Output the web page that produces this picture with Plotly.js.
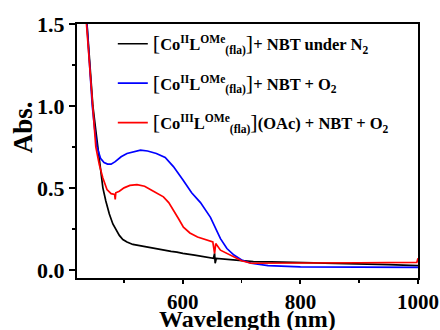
<!DOCTYPE html>
<html>
<head>
<meta charset="utf-8">
<script src="https://cdn.plot.ly/plotly-3.0.1.min.js"></script>
<style>html,body{margin:0;padding:0;background:#fff;}#chart{width:440px;height:330px;}</style>
</head>
<body>
<div id="chart"></div>
<script>
// Wavelength (nm) and absorbance for each spectrum
const blackWl  = [436, 441, 447, 452, 456, 460, 464, 469, 475, 481, 486, 488, 492, 498, 505, 515, 530, 550, 570, 580, 590, 600, 620, 640, 652, 654, 655, 657, 665, 680, 700, 720, 750, 800, 850, 900, 950, 1000];
const blackAbs = [1.55, 1.30, 1.00, 0.85, 0.74, 0.62, 0.50, 0.42, 0.34, 0.28, 0.25, 0.235, 0.21, 0.185, 0.17, 0.155, 0.145, 0.13, 0.12, 0.112, 0.108, 0.10, 0.09, 0.08, 0.07, 0.10, 0.04, 0.07, 0.068, 0.06, 0.055, 0.05, 0.048, 0.045, 0.042, 0.038, 0.032, 0.025];

const blueWl  = [435, 440, 446, 450, 454, 460, 466, 472, 478, 485, 495, 505, 515, 528, 540, 555, 570, 584, 600, 615, 630, 647, 664, 675, 687, 700, 716, 745, 800, 900, 1000];
const blueAbs = [1.60, 1.32, 1.00, 0.86, 0.75, 0.68, 0.655, 0.645, 0.645, 0.66, 0.69, 0.71, 0.72, 0.73, 0.725, 0.71, 0.685, 0.63, 0.55, 0.47, 0.41, 0.32, 0.19, 0.13, 0.09, 0.06, 0.04, 0.025, 0.018, 0.016, 0.015];

const redWl  = [434, 440, 447, 452, 458, 464, 471, 478, 484, 485, 486, 492, 500, 510, 522, 535, 550, 567, 576, 584, 593, 601, 612, 625, 640, 651, 654, 656, 664, 675, 687, 700, 716, 750, 800, 900, 998, 1000];
const redAbs = [1.60, 1.30, 1.00, 0.75, 0.64, 0.56, 0.49, 0.465, 0.46, 0.43, 0.47, 0.48, 0.50, 0.515, 0.52, 0.51, 0.48, 0.445, 0.41, 0.365, 0.31, 0.26, 0.225, 0.20, 0.18, 0.17, 0.10, 0.16, 0.12, 0.10, 0.075, 0.055, 0.04, 0.04, 0.043, 0.043, 0.045, 0.07];

const seriesNames = [
  '<span style="font-weight:normal;font-size:22px">[</span>Co<sup>II</sup>L<sup>OMe</sup><sub>(fla)</sub><span style="font-weight:normal;font-size:22px">]</span>+ NBT under N<sub>2</sub>',
  '<span style="font-weight:normal;font-size:22px">[</span>Co<sup>II</sup>L<sup>OMe</sup><sub>(fla)</sub><span style="font-weight:normal;font-size:22px">]</span>+ NBT + O<sub>2</sub>',
  '<span style="font-weight:normal;font-size:22px">[</span>Co<sup>III</sup>L<sup>OMe</sup><sub>(fla)</sub><span style="font-weight:normal;font-size:22px">]</span>(OAc) + NBT + O<sub>2</sub>'
];
const xTicks = [600, 800, 1000];
const yTicks = [0.0, 0.5, 1.0, 1.5];
const xTitle = 'Wavelength (nm)';
const yTitle = 'Abs.';

const serif = '"Liberation Serif", "Times New Roman", serif';

const traces = [
  {x: blackWl, y: blackAbs, name: seriesNames[0], legendgroup: 'a', mode: 'lines', line: {color: '#000000', width: 1.7}},
  {x: blueWl,  y: blueAbs,  name: seriesNames[1], legendgroup: 'b', mode: 'lines', line: {color: '#0000ff', width: 1.7}},
  {x: redWl,   y: redAbs,   name: seriesNames[2], legendgroup: 'c', mode: 'lines', line: {color: '#ff0000', width: 1.7}}
];

const axisCommon = {
  showline: true, linecolor: '#000', linewidth: 2, mirror: true,
  ticks: 'outside', ticklen: 6, tickwidth: 2, tickcolor: '#000',
  showgrid: false, zeroline: false,
  tickfont: {family: serif, size: 22, color: '#000', weight: 'bold'}
};

const layout = {
  width: 440, height: 330,
  margin: {l: 77, r: 22, t: 24, b: 52},
  paper_bgcolor: '#fff', plot_bgcolor: '#fff',
  showlegend: true,
  legend: {
    x: 0.105, y: 0.99, xanchor: 'left', yanchor: 'top',
    bgcolor: 'rgba(0,0,0,0)', borderwidth: 0,
    font: {family: serif, size: 16.5, color: '#000', weight: 'bold'},
    tracegroupgap: 15
  },
  xaxis: Object.assign({}, axisCommon, {
    range: [420, 1000], tickvals: xTicks, ticktext: xTicks.map(String),
    ticklen: 4, tickfont: {family: serif, size: 21, color: '#000', weight: 'bold'},
    minor: {ticks: 'outside', ticklen: 3, tickwidth: 1.5, tickcolor: '#000', dtick: 100, tick0: 0}
  }),
  yaxis: Object.assign({}, axisCommon, {
    range: [-0.05, 1.5], tickvals: yTicks, ticktext: yTicks.map(v => v.toFixed(1)),
    minor: {ticks: 'outside', ticklen: 3, tickwidth: 1.5, tickcolor: '#000', dtick: 0.25, tick0: 0}
  }),
  annotations: [
    {
      text: yTitle, textangle: -90, xref: 'paper', yref: 'paper',
      x: -0.16, y: 0.595, xanchor: 'center', yanchor: 'middle', showarrow: false,
      font: {family: serif, size: 27, color: '#000', weight: 'bold'}
    },
    {
      text: xTitle, xref: 'paper', yref: 'paper',
      x: 0.5, y: -0.163, xanchor: 'center', yanchor: 'middle', showarrow: false,
      font: {family: serif, size: 24, color: '#000', weight: 'bold'}
    }
  ]
};

Plotly.newPlot('chart', traces, layout, {staticPlot: true, displayModeBar: false});
</script>
</body>
</html>
